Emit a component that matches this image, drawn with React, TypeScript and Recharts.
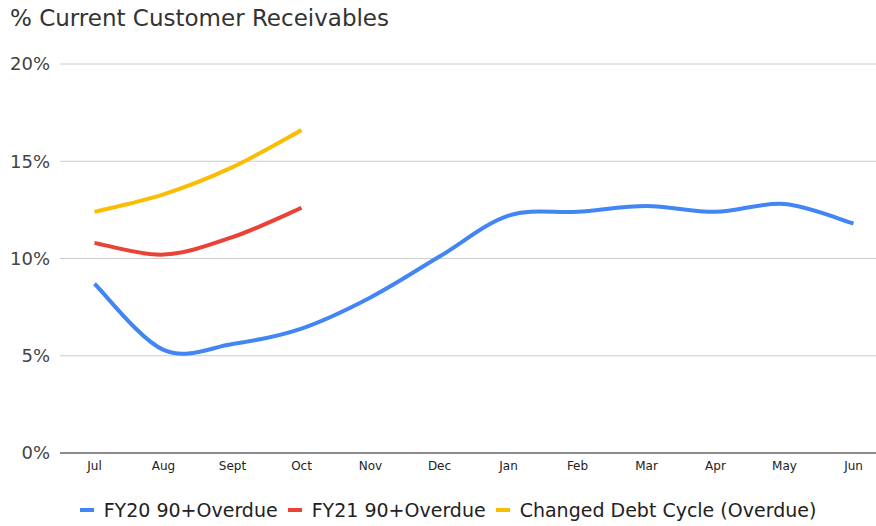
import React from "react";
import { LineChart, Line, XAxis, YAxis, CartesianGrid, Legend } from "recharts";

const months = ["Jul", "Aug", "Sept", "Oct", "Nov", "Dec", "Jan", "Feb", "Mar", "Apr", "May", "Jun"];
const fy20 = [8.7, 5.3, 5.6, 6.4, 8.0, 10.1, 12.2, 12.4, 12.7, 12.4, 12.8, 11.8];
const fy21: (number | null)[] = [10.8, 10.2, 11.1, 12.6, null, null, null, null, null, null, null, null];
const changed: (number | null)[] = [12.4, 13.3, 14.7, 16.6, null, null, null, null, null, null, null, null];
const yTicks = [0, 5, 10, 15, 20];

const seriesNames = ["FY20 90+Overdue", "FY21 90+Overdue", "Changed Debt Cycle (Overdue)"];
const colors = ["#4285F4", "#EA4335", "#FBBC04"];

const data = months.map((m, i) => ({
  month: m,
  fy20: fy20[i],
  fy21: fy21[i],
  changed: changed[i],
}));

const FONT = "'DejaVu Sans', Verdana, sans-serif";

// Catmull-Rom style smoothing (like Google Charts "function" curves)
const smoothCurve: any = (context: any) => {
  let pts: [number, number][] = [];
  const s = 1 / 6;
  return {
    areaStart() {},
    areaEnd() {},
    lineStart() {
      pts = [];
    },
    point(x: number, y: number) {
      pts.push([+x, +y]);
    },
    lineEnd() {
      if (!pts.length) return;
      context.moveTo(pts[0][0], pts[0][1]);
      if (pts.length === 1) {
        context.lineTo(pts[0][0], pts[0][1]);
        return;
      }
      for (let i = 0; i < pts.length - 1; i++) {
        const p0 = pts[i - 1] || pts[i];
        const p1 = pts[i];
        const p2 = pts[i + 1];
        const p3 = pts[i + 2] || pts[i + 1];
        context.bezierCurveTo(
          p1[0] + (p2[0] - p0[0]) * s,
          p1[1] + (p2[1] - p0[1]) * s,
          p2[0] - (p3[0] - p1[0]) * s,
          p2[1] - (p3[1] - p1[1]) * s,
          p2[0],
          p2[1]
        );
      }
    },
  };
};

const LegendContent = () => (
  <div
    style={{
      display: "flex",
      justifyContent: "center",
      alignItems: "center",
      fontFamily: FONT,
      fontSize: 19,
      color: "#222",
      whiteSpace: "nowrap",
      marginTop: 16,
      paddingLeft: 8,
    }}
  >
    {seriesNames.map((n, i) => (
      <div key={n} style={{ display: "flex", alignItems: "center", marginRight: i < 2 ? 10 : 0 }}>
        <div style={{ width: 14, height: 4, background: colors[i], marginRight: 10 }} />
        <span>{n}</span>
      </div>
    ))}
  </div>
);

export default function App() {
  return (
    <div
      style={{
        position: "absolute",
        left: 0,
        top: 0,
        width: 876,
        height: 526,
        overflow: "hidden",
        background: "#fff",
      }}
    >
      <div
        style={{
          position: "absolute",
          left: 10,
          top: 5,
          fontFamily: FONT,
          fontSize: 23,
          color: "#333",
          whiteSpace: "nowrap",
        }}
      >
        % Current Customer Receivables
      </div>
      <LineChart
        width={888}
        height={526}
        data={data}
        margin={{ top: 64, right: 0, bottom: 0, left: 0 }}
      >
        <CartesianGrid vertical={false} stroke="#cccccc" />
        <XAxis
          dataKey="month"
          axisLine={{ stroke: "#333", strokeWidth: 1 }}
          tickLine={false}
          tickMargin={2}
          height={30}
          padding={{ left: 34.5, right: 34.5 }}
          tick={{ fontFamily: FONT, fontSize: 12, fill: "#222" }}
          interval={0}
        />
        <YAxis
          domain={[0, 20]}
          ticks={yTicks}
          width={60}
          axisLine={false}
          tickLine={false}
          tickMargin={4}
          tickFormatter={(v: number) => `${v}%`}
          tick={{ fontFamily: FONT, fontSize: 18, fill: "#444" }}
        />
        <Legend verticalAlign="bottom" height={43} content={<LegendContent />} />
        <Line
          dataKey="fy20"
          name={seriesNames[0]}
          stroke={colors[0]}
          strokeWidth={4}
          dot={false}
          activeDot={false}
          type={smoothCurve}
          isAnimationActive={false}
        />
        <Line
          dataKey="fy21"
          name={seriesNames[1]}
          stroke={colors[1]}
          strokeWidth={4}
          dot={false}
          activeDot={false}
          type={smoothCurve}
          isAnimationActive={false}
        />
        <Line
          dataKey="changed"
          name={seriesNames[2]}
          stroke={colors[2]}
          strokeWidth={4}
          dot={false}
          activeDot={false}
          type={smoothCurve}
          isAnimationActive={false}
        />
      </LineChart>
    </div>
  );
}
